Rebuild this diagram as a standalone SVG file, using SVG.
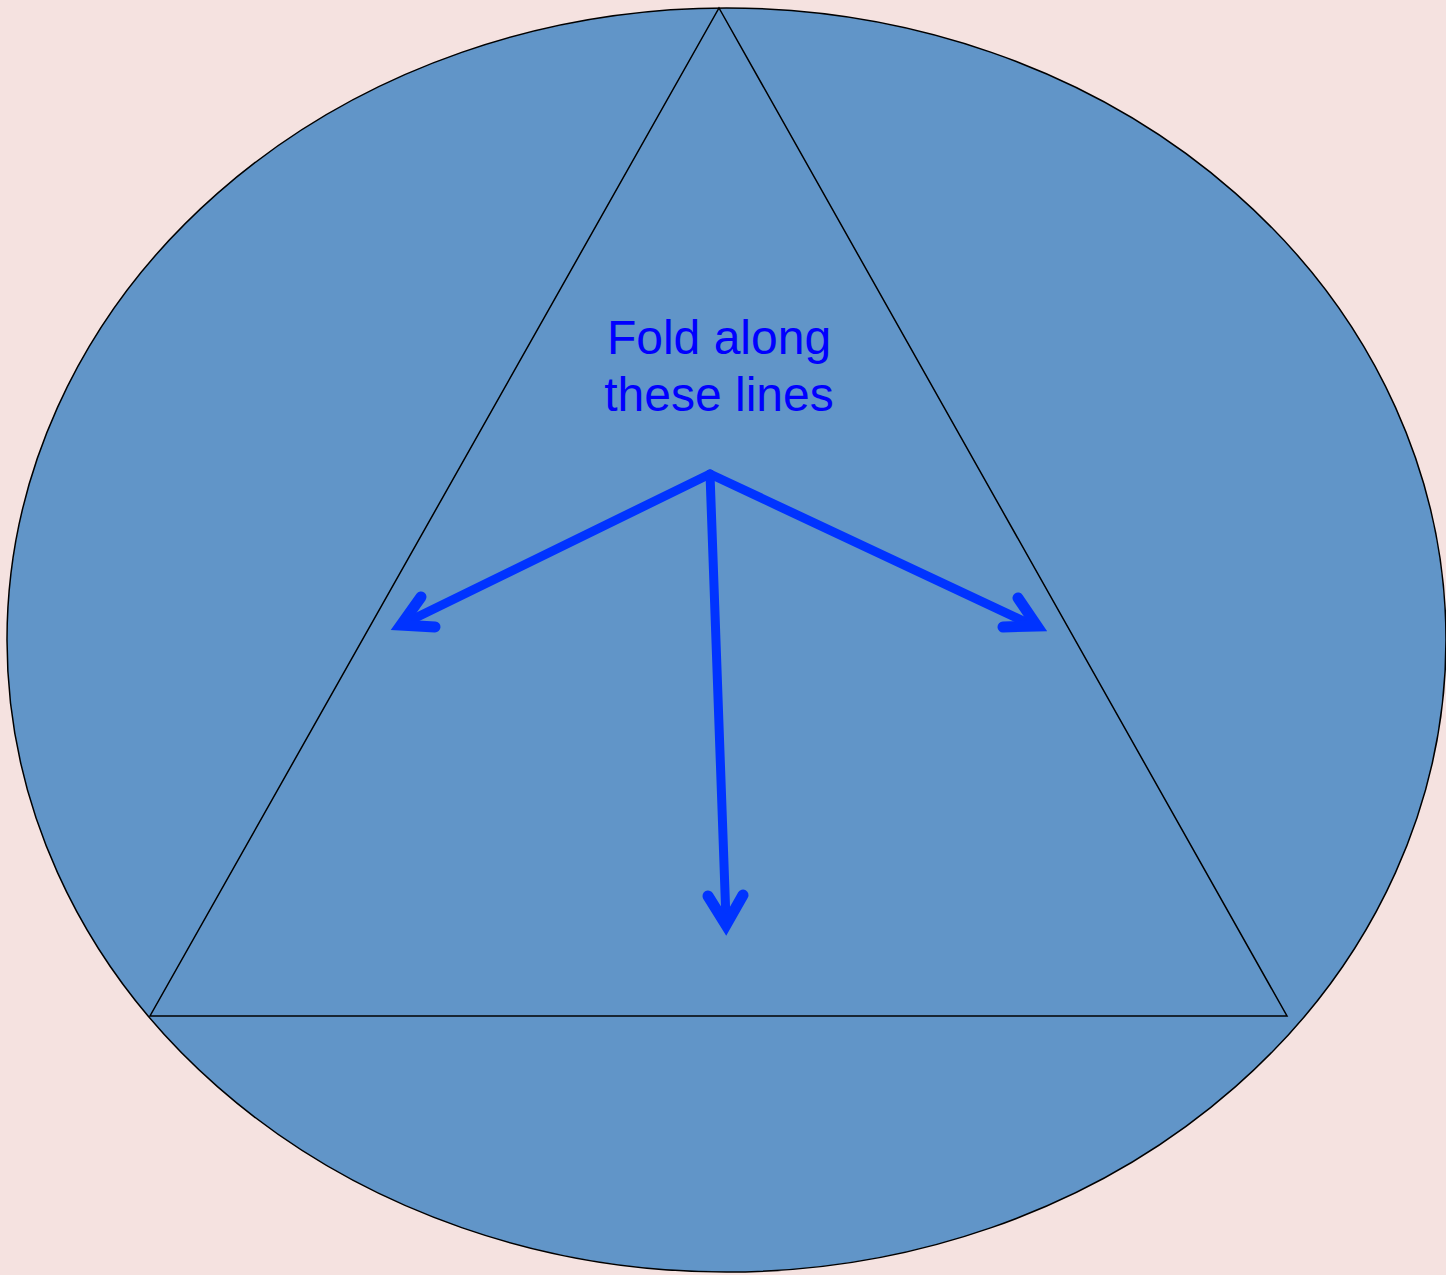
<svg xmlns="http://www.w3.org/2000/svg" width="1446" height="1275" viewBox="0 0 1446 1275">
<style>
.shape{fill:#6195C8;stroke:#000;stroke-width:1.5}
.arrow{fill:none;stroke:#0033FF;stroke-width:9;stroke-linecap:round;stroke-linejoin:miter;stroke-miterlimit:10}
.head{fill:none;stroke:#0033FF;stroke-width:11;stroke-linecap:round;stroke-linejoin:miter;stroke-miterlimit:10}
.lbl{font-family:"Liberation Sans",Arial,sans-serif;font-size:48px;fill:#0000FF;text-anchor:middle}
</style>
<rect width="1446" height="1275" fill="#F5E2E0"/>
<g id="circle"><ellipse class="shape" cx="726.5" cy="640" rx="719.5" ry="632"/></g>
<g id="triangle"><polygon class="shape" points="719,8 1287,1016 150,1016"/></g>
<g id="label">
<text class="lbl" x="719" y="354">Fold along</text>
<text class="lbl" x="719" y="411">these lines</text>
</g>
<g id="connectors">
<path class="arrow" d="M710,474 L405,623"/>
<path class="head" d="M421,597 L401,625 L435,627"/>
<path class="arrow" d="M710,474 L1034,626"/>
<path class="head" d="M1018,598 L1037,626 L1003,627"/>
<path class="arrow" d="M710,474 L726,920"/>
<path class="head" d="M708,896 L726,925 L743,895"/>
</g>
</svg>
